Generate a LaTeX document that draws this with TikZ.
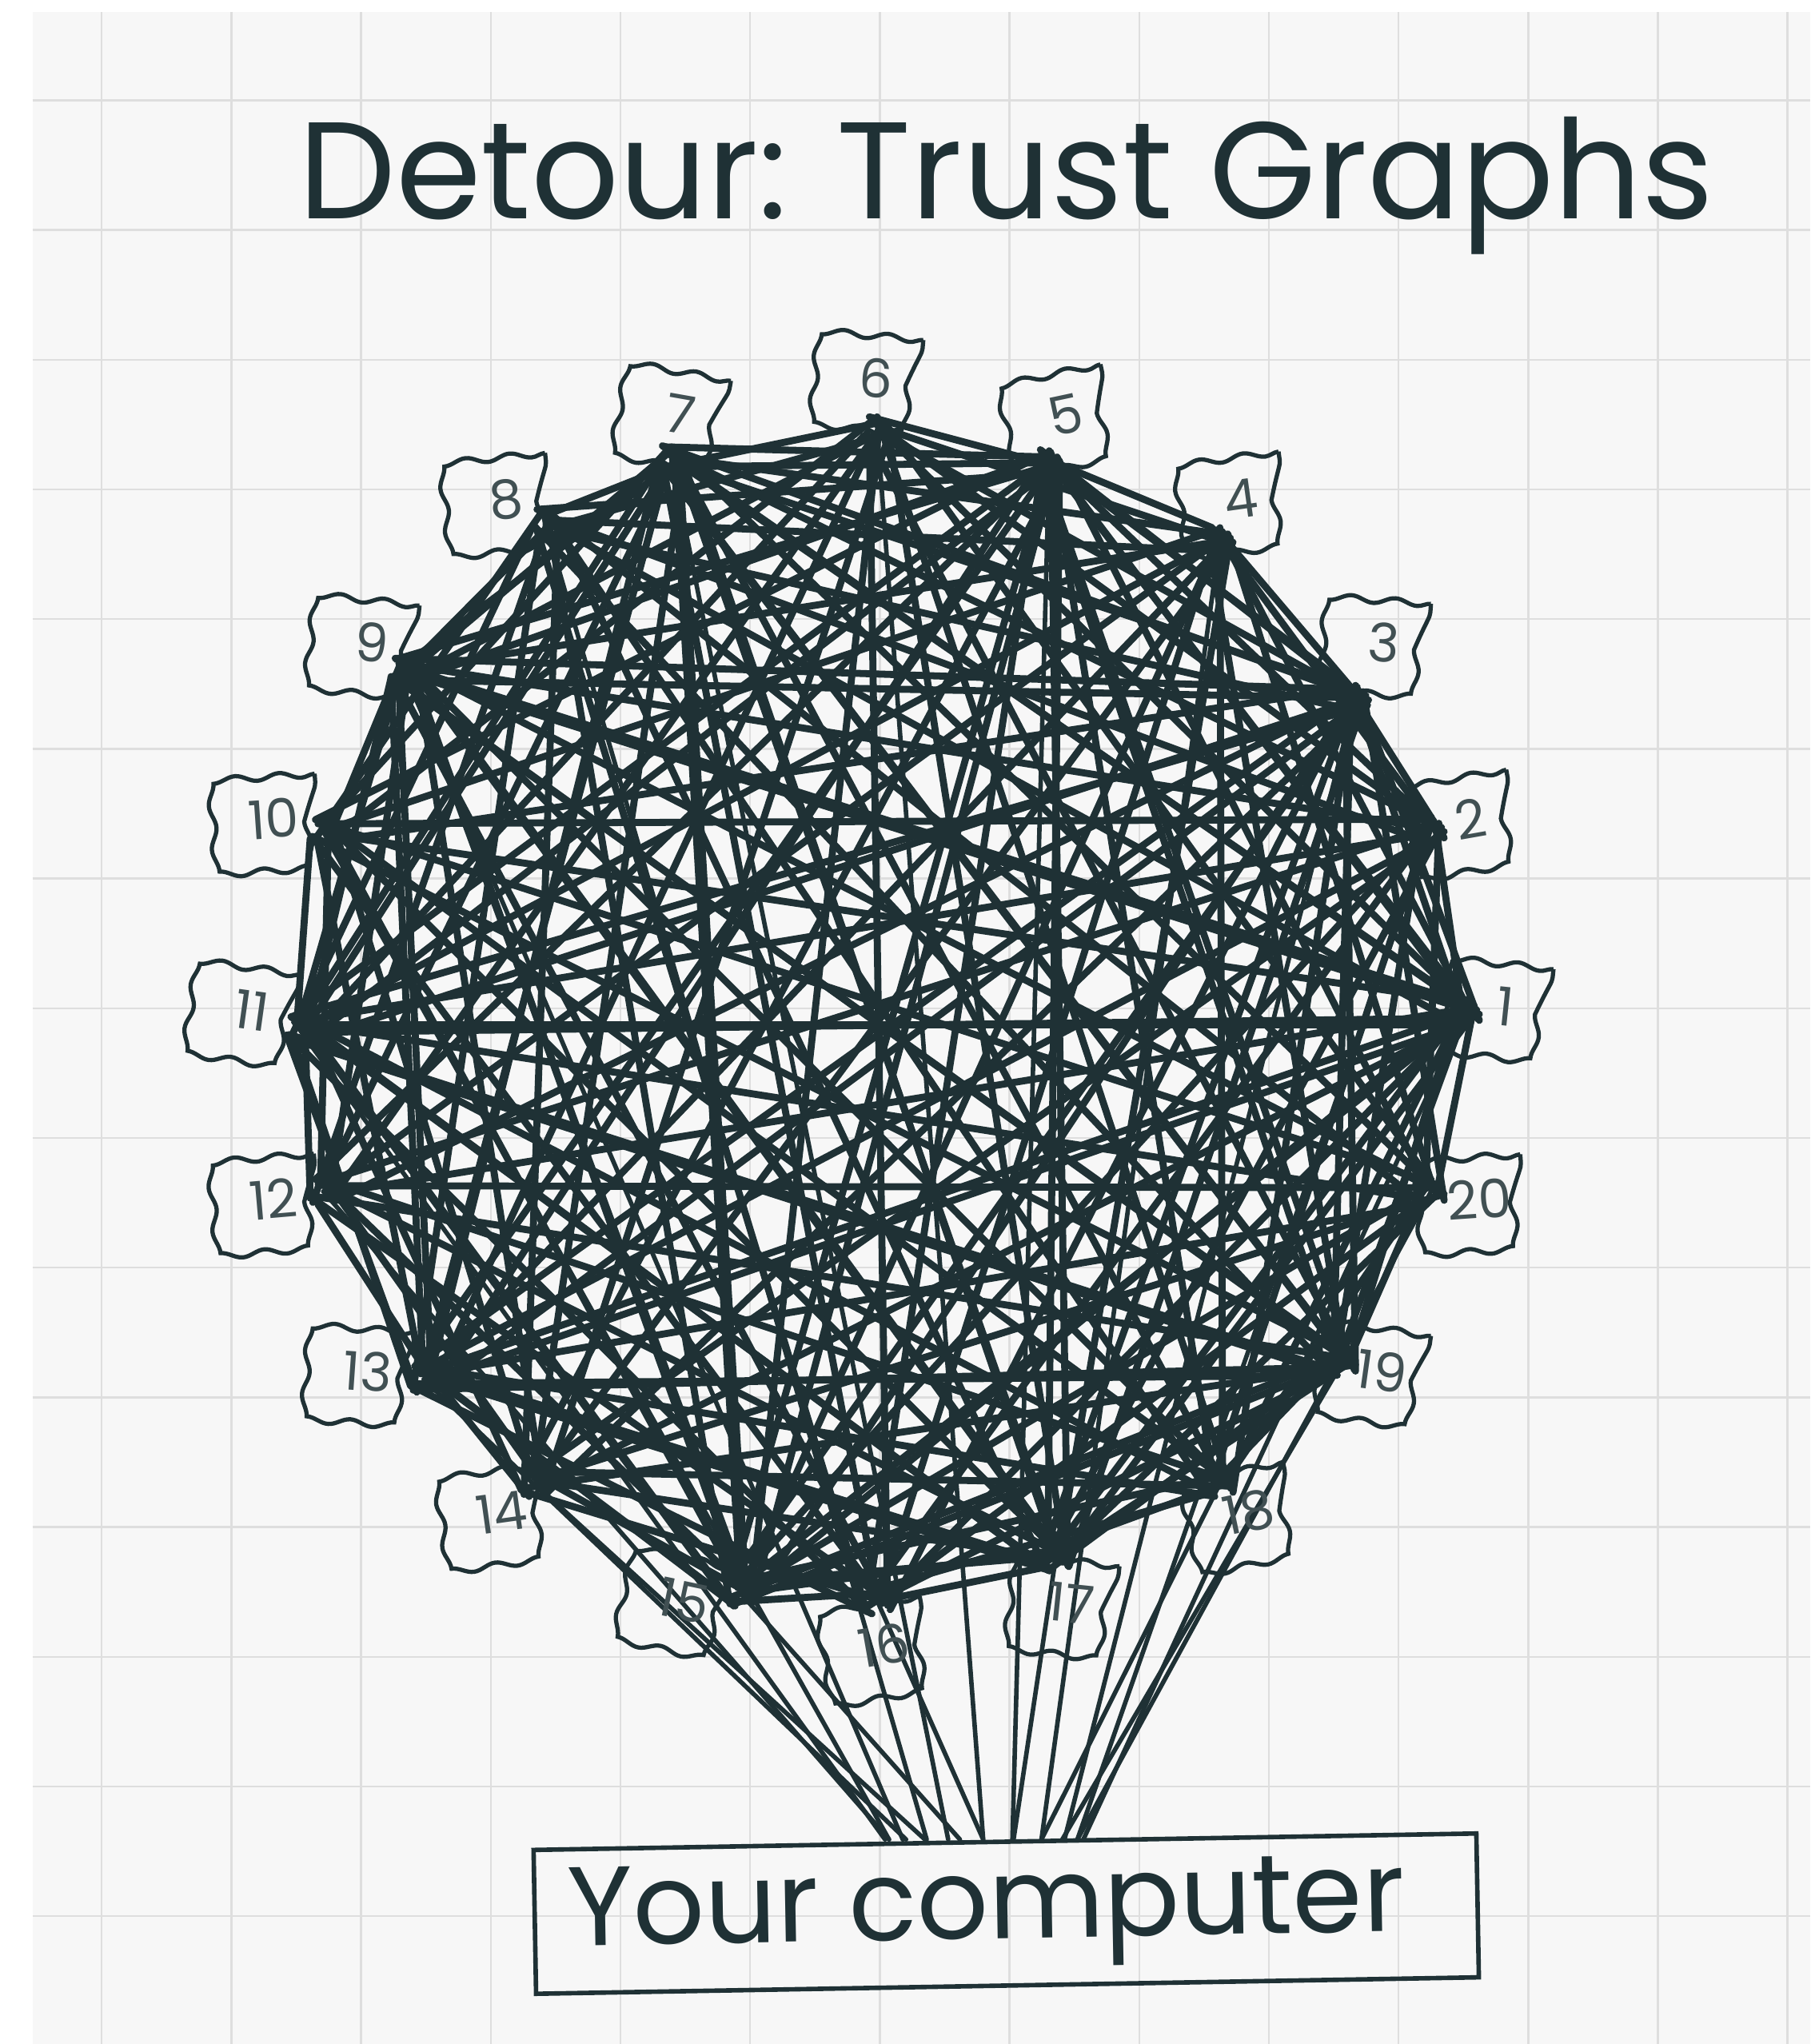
\documentclass[tikz,border=0pt]{standalone}
\usepackage{fontspec}
\setmainfont{Poppins}
\usepackage{tikz}
\usetikzlibrary{calc,decorations.pathmorphing}
\definecolor{ink}{RGB}{31,49,53}
\definecolor{paper}{RGB}{247,247,247}
\definecolor{gridline}{RGB}{222,222,222}
\tikzset{
  trust-edge/.style={draw=ink, line width=2.5pt, line cap=round},
  trust-fan/.style={draw=ink, line width=1.6pt, line cap=round},
  trust-flag/.style={draw=ink, line width=1.5pt, minimum width=1.1cm, minimum height=1.05cm,
    inner sep=1pt, text=ink!85, font=\fontsize{19}{19}\selectfont,
    decorate, decoration={snake, amplitude=1.1pt, segment length=0.55cm}},
  trust-title/.style={text=ink, font=\fontsize{49}{52}\selectfont},
  trust-box/.style={draw=ink, line width=1.6pt, minimum width=11.8cm, minimum height=1.8cm,
    text=ink, font=\fontsize{40}{42}\selectfont}
}

\begin{document}
\begin{tikzpicture}[x=0.016307cm, y=0.016307cm]
  \useasboundingbox (0,0) rectangle (1389,1568);
  % squared paper
  \fill[white] (0,0) rectangle (1389,1568);
  \fill[paper] (25,0) rectangle (1389,1559);
  \foreach \gx in {0,...,13}
    \draw[gridline, line width=0.7pt] ({78+99.5*\gx},0) -- ({78+99.5*\gx},1559);
  \foreach \gy in {0,...,14}
    \draw[gridline, line width=0.7pt] (25,{1491-99.5*\gy}) -- (1389,{1491-99.5*\gy});

  % title
  \node[trust-title, anchor=base] (title) at (772,1400) {Detour: Trust Graphs};

  % hubs where the lines meet, one per peer
  \foreach \i/\hx/\hy in {1/1125/776, 2/1098/636, 3/1040/535, 4/936/414, 5/805/355,
                          6/673/329, 7/515/352, 8/418/400, 9/310/515, 10/248/638,
                          11/230/790, 12/248/914, 13/325/1058, 14/410/1138, 15/568/1222,
                          16/673/1228, 17/810/1195, 18/936/1138, 19/1030/1045, 20/1098/914}
    \coordinate (h\i) at (\hx,1568-\hy);

  % trust lines between peers (odd peers get a second line)
  \foreach \i in {1,...,19}{
    \pgfmathtruncatemacro\jfirst{\i+1}
    \foreach \j in {\jfirst,...,20}{
      \pgfmathsetmacro\ax{mod(\j*7,11)*2-10}
      \pgfmathsetmacro\ay{mod(\j*5,13)*1.6-10}
      \pgfmathsetmacro\bx{mod(\i*7,11)*2-10}
      \pgfmathsetmacro\by{mod(\i*5,13)*1.6-10}
      \draw[trust-edge] ($(h\i)+(\ax,\ay)$) -- ($(h\j)+(\bx,\by)$);
      \pgfmathtruncatemacro\oddsum{mod(\i,2)+mod(\j,2)}
      \ifnum\oddsum=2
        \draw[trust-edge] ($(h\i)+(\ay,\ax)$) -- ($(h\j)+(\by,\bx)$);
      \fi
    }
  }

  % your computer
  \node[trust-box, rotate=1] (pc) at (772,100) {\hspace*{-0.5cm}\raisebox{-0.2cm}{Your computer}};
  \coordinate (pctop) at (pc.north);
  \foreach \i in {1,...,20}{
    \path ($(pctop)!0.17!(h\i)$) coordinate (tip);
    \draw[trust-fan] (h\i) -- (tip |- pctop);
  }

  % numbered flags
  \foreach \i/\fx/\fy/\r in {1/1155/772/-6, 2/1128/628/10, 3/1062/493/-4, 4/952/383/8,
                             5/818/318/12, 6/672/290/-5, 7/522/318/-10, 8/388/383/6,
                             9/285/493/-6, 10/210/628/4, 11/193/775/-8, 12/210/920/5,
                             13/282/1052/-4, 14/385/1160/8, 15/525/1228/-12, 16/678/1262/10,
                             17/822/1230/-6, 18/958/1160/12, 19/1060/1052/-8, 20/1135/920/4}
    \node[trust-flag, rotate=\r] (n\i) at (\fx,1568-\fy) {\i};
\end{tikzpicture}
\end{document}
